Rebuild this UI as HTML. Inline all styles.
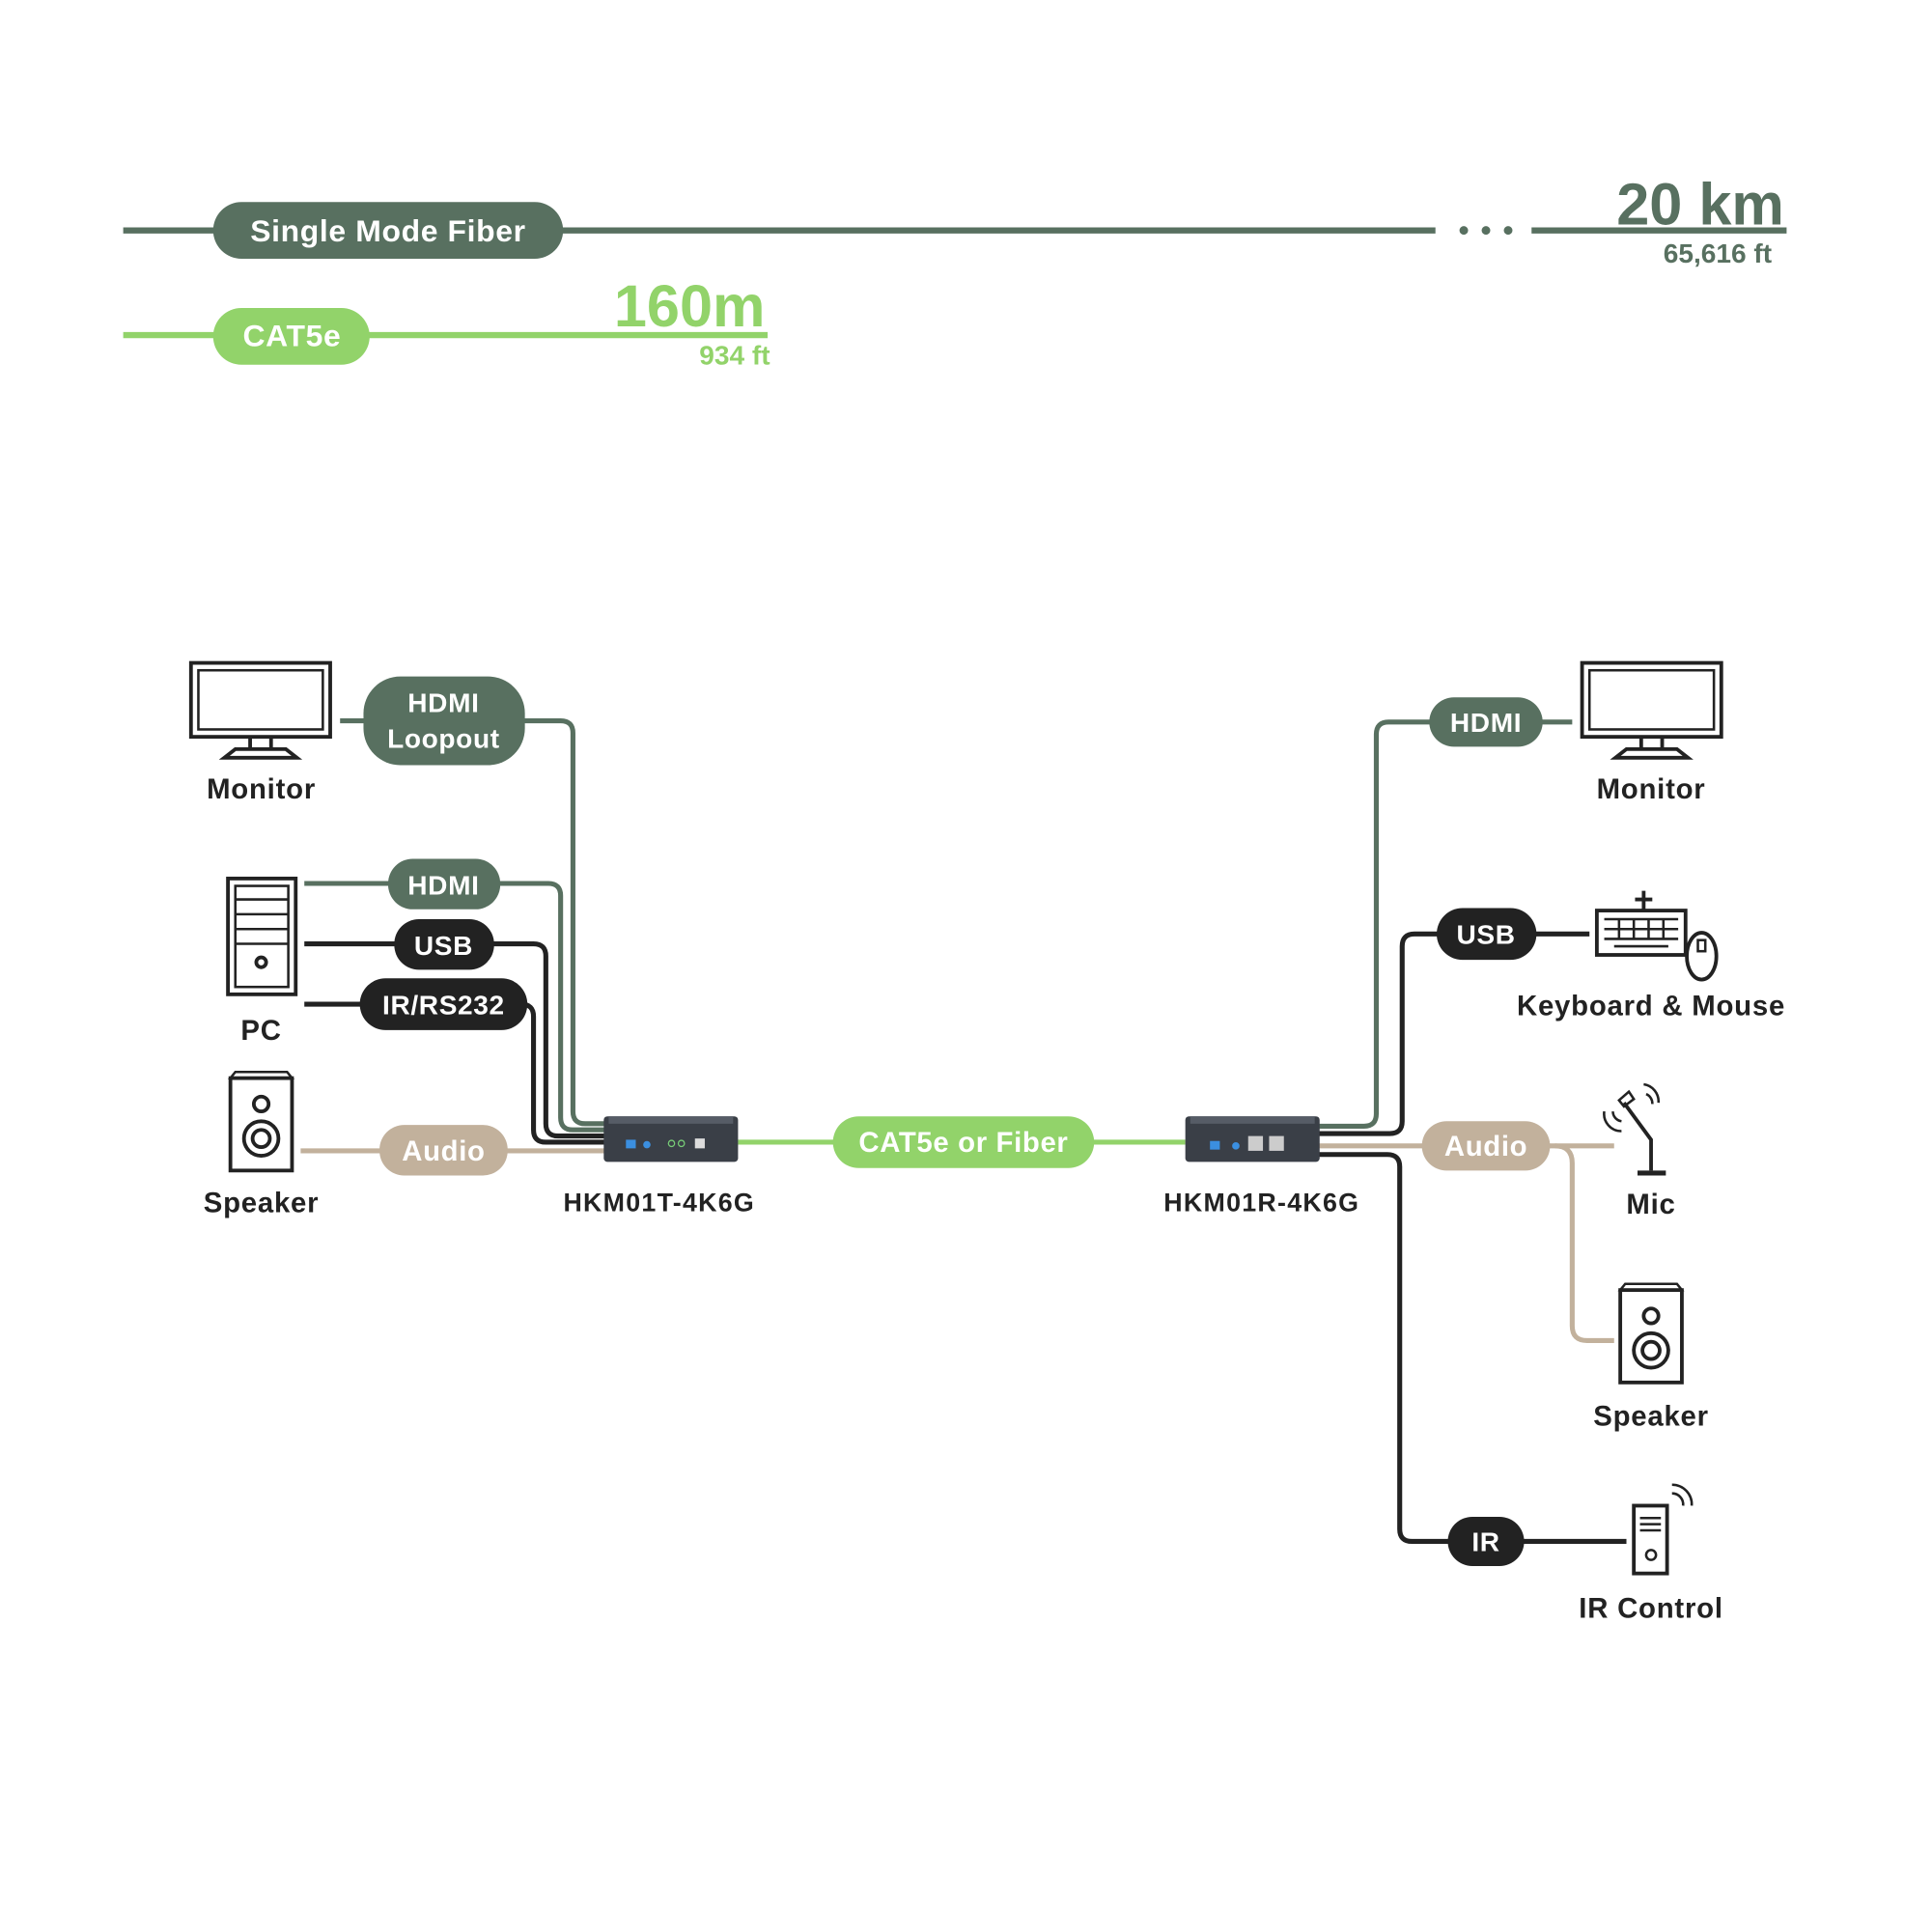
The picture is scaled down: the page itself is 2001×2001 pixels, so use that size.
<!DOCTYPE html>
<html><head><meta charset="utf-8"><style>html,body{margin:0;padding:0;background:#fff}svg{display:block}text{font-family:"Liberation Sans",sans-serif;font-weight:bold}</style></head>
<body>
<svg width="2001" height="2001" viewBox="0 0 1568 1568" xmlns="http://www.w3.org/2000/svg">
<!-- top legend -->
<g fill="none" stroke-width="5">
<line x1="100" y1="187" x2="1165" y2="187" stroke="#587060"/>
<line x1="1243" y1="187" x2="1450" y2="187" stroke="#587060"/>
<line x1="100" y1="272" x2="623" y2="272" stroke="#92d36a"/>
</g>
<circle cx="1188" cy="187" r="3.5" fill="#587060"/><circle cx="1206" cy="187" r="3.5" fill="#587060"/><circle cx="1224" cy="187" r="3.5" fill="#587060"/>
<rect x="173" y="164" width="284" height="46" rx="23" fill="#587060"/>
<text x="315" y="196" font-size="25" fill="#fff" text-anchor="middle" letter-spacing="0.5">Single Mode Fiber</text>
<rect x="173" y="250" width="127" height="46" rx="23" fill="#92d36a"/>
<text x="237" y="281" font-size="25" fill="#fff" text-anchor="middle" letter-spacing="0.5">CAT5e</text>
<text x="1448" y="182" font-size="48" fill="#587060" text-anchor="end">20 km</text>
<text x="1438" y="213" font-size="22" fill="#587060" text-anchor="end" font-weight="normal">65,616 ft</text>
<text x="621" y="265" font-size="48" fill="#92d36a" text-anchor="end">160m</text>
<text x="625" y="296" font-size="22" fill="#92d36a" text-anchor="end" font-weight="normal">934 ft</text>

<!-- connectors left -->
<g fill="none" stroke-width="4">
<path d="M276 585 H455 Q465 585 465 595 V902 Q465 912 475 912 H492" stroke="#587060"/>
<path d="M247 717 H445 Q455 717 455 727 V907 Q455 917 465 917 H492" stroke="#587060"/>
<path d="M247 766 H433 Q443 766 443 776 V912 Q443 922 453 922 H492" stroke="#222"/>
<path d="M247 815 H423 Q433 815 433 825 V917 Q433 927 443 927 H492" stroke="#222"/>
<path d="M244 934 H492" stroke="#c2b19c"/>
<path d="M599 927 H962" stroke="#92d36a"/>
<!-- right -->
<path d="M1276 586 H1127 Q1117 586 1117 596 V904 Q1117 914 1107 914 H1070" stroke="#587060"/>
<path d="M1290 758 H1148 Q1138 758 1138 768 V910 Q1138 920 1128 920 H1070" stroke="#222"/>
<path d="M1070 930 H1310" stroke="#c2b19c"/>
<path d="M1262 930 Q1276 930 1276 944 V1076 Q1276 1088 1288 1088 H1310" stroke="#c2b19c"/>
<path d="M1070 937 H1126 Q1136 937 1136 947 V1241 Q1136 1251 1146 1251 H1320" stroke="#222"/>
</g>

<!-- pills -->
<g letter-spacing="0.5">
<rect x="295" y="549" width="131" height="72" rx="30" fill="#587060"/>
<text x="360" y="578" font-size="22" fill="#fff" text-anchor="middle">HDMI</text>
<text x="360" y="607" font-size="22" fill="#fff" text-anchor="middle">Loopout</text>
<rect x="315" y="697" width="91" height="41" rx="20" fill="#587060"/>
<text x="360" y="726" font-size="22" fill="#fff" text-anchor="middle">HDMI</text>
<rect x="320" y="746" width="81" height="41" rx="20" fill="#222"/>
<text x="360" y="775" font-size="22" fill="#fff" text-anchor="middle">USB</text>
<rect x="292" y="794" width="136" height="42" rx="21" fill="#222"/>
<text x="360" y="823" font-size="22" fill="#fff" text-anchor="middle">IR/RS232</text>
<rect x="308" y="913" width="104" height="41" rx="20" fill="#c2b19c"/>
<text x="360" y="942" font-size="23" fill="#fff" text-anchor="middle">Audio</text>
<rect x="676" y="906" width="212" height="42" rx="21" fill="#92d36a"/>
<text x="782" y="935" font-size="23" fill="#fff" text-anchor="middle">CAT5e or Fiber</text>
<rect x="1160" y="566" width="92" height="40" rx="20" fill="#587060"/>
<text x="1206" y="594" font-size="22" fill="#fff" text-anchor="middle">HDMI</text>
<rect x="1166" y="737" width="81" height="42" rx="21" fill="#222"/>
<text x="1206" y="766" font-size="22" fill="#fff" text-anchor="middle">USB</text>
<rect x="1154" y="910" width="104" height="40" rx="20" fill="#c2b19c"/>
<text x="1206" y="938" font-size="23" fill="#fff" text-anchor="middle">Audio</text>
<rect x="1175" y="1231" width="62" height="40" rx="20" fill="#222"/>
<text x="1206" y="1259" font-size="22" fill="#fff" text-anchor="middle">IR</text>
</g>

<!-- devices -->
<g>
<rect x="490" y="906" width="109" height="37" rx="3" fill="#3a3f47"/>
<rect x="494" y="906" width="101" height="6" fill="#565c66"/>
<rect x="508" y="925" width="8" height="7" fill="#3b8fe0"/><circle cx="525" cy="929" r="3" fill="#3b8fe0"/>
<circle cx="545" cy="928" r="2.5" fill="none" stroke="#7c7" stroke-width="1"/><circle cx="553" cy="928" r="2.5" fill="none" stroke="#7c7" stroke-width="1"/>
<rect x="564" y="924" width="8" height="8" fill="#ddd"/>
<rect x="962" y="906" width="109" height="37" rx="3" fill="#3a3f47"/>
<rect x="966" y="906" width="101" height="6" fill="#565c66"/>
<rect x="982" y="926" width="8" height="7" fill="#3b8fe0"/><circle cx="1003" cy="930" r="3" fill="#3b8fe0"/>
<rect x="1013" y="922" width="12" height="12" fill="#ccc"/><rect x="1030" y="922" width="12" height="12" fill="#ccc"/>
</g>
<text x="535" y="983" font-size="21" fill="#222" text-anchor="middle" letter-spacing="1">HKM01T-4K6G</text>
<text x="1024" y="983" font-size="21" fill="#222" text-anchor="middle" letter-spacing="1">HKM01R-4K6G</text>

<!-- icons -->
<g fill="none" stroke="#222" stroke-width="3">
<rect x="155" y="538" width="113" height="60"/><rect x="161" y="544" width="101" height="48" stroke-width="2"/>
<path d="M203 598 V608 H220 V598 M182 615 L191 608 H232 L241 615 Z"/>
<rect x="1284" y="538" width="113" height="60"/><rect x="1290" y="544" width="101" height="48" stroke-width="2"/>
<path d="M1332 598 V608 H1349 V598 M1311 615 L1320 608 H1361 L1370 615 Z"/>
<rect x="185" y="713" width="55" height="94"/><rect x="191" y="719" width="43" height="82" stroke-width="2"/>
<path d="M191 730 H234 M191 742 H234 M191 754 H234 M191 766 H234" stroke-width="2"/><circle cx="212" cy="781" r="4"/>
<rect x="187" y="875" width="50" height="75"/><path d="M191 870 H233 L237 875 H187 Z" stroke-width="2"/>
<circle cx="212" cy="896" r="6"/><circle cx="212" cy="924" r="14"/><circle cx="212" cy="924" r="7"/>
<rect x="1315" y="1047" width="50" height="75"/><path d="M1319 1042 H1361 L1365 1047 H1315 Z" stroke-width="2"/>
<circle cx="1340" cy="1068" r="6"/><circle cx="1340" cy="1096" r="14"/><circle cx="1340" cy="1096" r="7"/>
<rect x="1296" y="739" width="72" height="36"/><path d="M1334 739 V730 M1327 730 H1341 M1334 723 V730" />
<path d="M1302 746 H1362 M1302 754 H1362 M1302 762 H1362 M1314 746 V762 M1326 746 V762 M1338 746 V762 M1350 746 V762 M1310 768 H1354" stroke-width="2"/>
<ellipse cx="1381" cy="776" rx="12" ry="19" fill="#fff"/><rect x="1378" y="763" width="6" height="9" stroke-width="2"/>
<path d="M1340 950 V925 L1318 895" /><path d="M1329 952 H1352" stroke-width="4"/><path d="M1314 893 L1322 886 L1326 892 L1318 898 Z" stroke-width="2"/>
<path d="M1334 880 A14 14 0 0 1 1346 895 M1336 888 A8 8 0 0 1 1341 896 M1302 902 A14 14 0 0 0 1316 918 M1309 902 A8 8 0 0 0 1316 910" stroke-width="2"/>
<rect x="1326" y="1222" width="27" height="55"/><path d="M1331 1232 H1348 M1331 1237 H1348 M1331 1242 H1348" stroke-width="2"/><circle cx="1340" cy="1262" r="4" stroke-width="2"/>
<path d="M1357 1205 A16 16 0 0 1 1373 1222 M1357 1212 A9 9 0 0 1 1366 1222" stroke-width="2"/>
</g>

<!-- labels -->
<g font-size="23" fill="#222" text-anchor="middle" letter-spacing="0.6">
<text x="212" y="648">Monitor</text>
<text x="212" y="844">PC</text>
<text x="212" y="984">Speaker</text>
<text x="1340" y="648">Monitor</text>
<text x="1340" y="824">Keyboard &amp; Mouse</text>
<text x="1340" y="985">Mic</text>
<text x="1340" y="1157">Speaker</text>
<text x="1340" y="1313">IR Control</text>
</g>
</svg>
</body></html>
